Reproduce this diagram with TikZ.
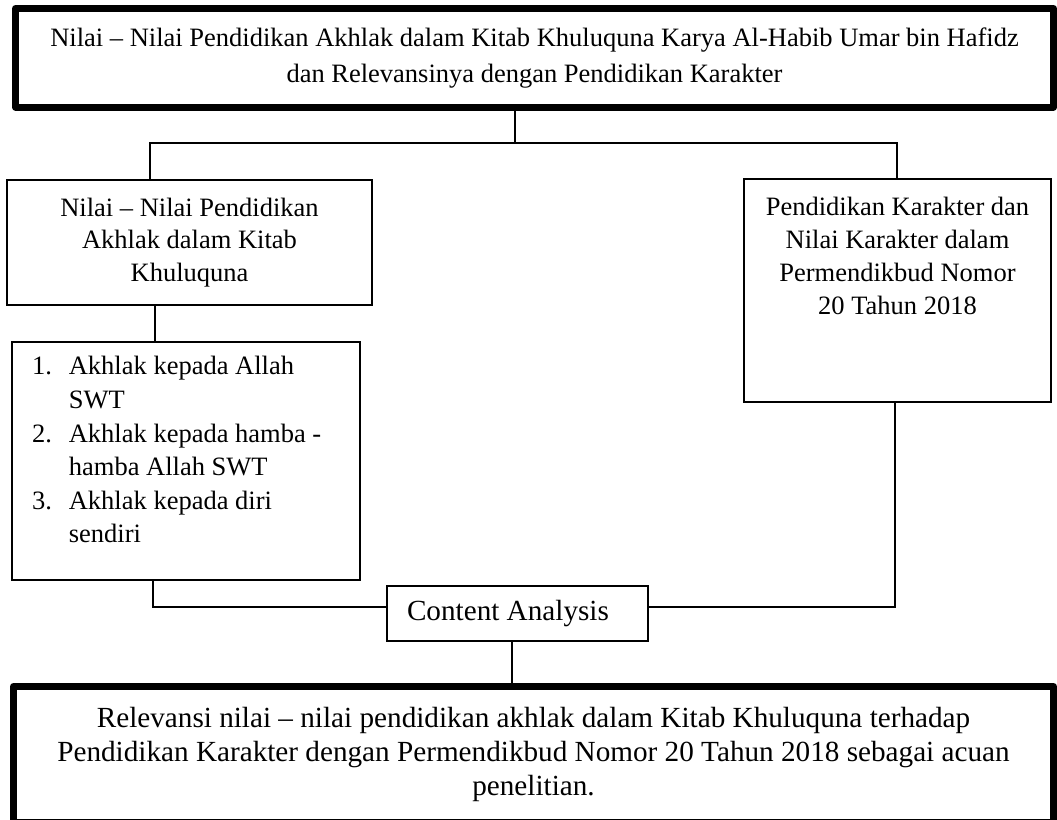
\documentclass[tikz,border=0pt]{standalone}
\usepackage{fontspec}
\setmainfont{Liberation Serif}
\tikzset{
  box/.style={draw,line width=0.8pt,inner sep=0pt},
  bigbox/.style={draw,line width=3.5pt,line join=round,inner sep=0pt,align=center},
  link/.style={line width=0.8pt},
}
\newcommand{\toptext}[3]{\parbox[c][#1][t]{#2}{#3}}
\begin{document}
\begin{tikzpicture}[x=0.5pt,y=-0.5pt]
\useasboundingbox (0,0) rectangle (1057,820);
% boxes
\node[bigbox,minimum width=519pt,minimum height=49.25pt,font=\fontsize{13.25}{18}\selectfont] (judul) at (534.5,57.75)
  {Nilai – Nilai Pendidikan Akhlak dalam Kitab Khuluquna Karya Al-Habib Umar bin Hafidz\\dan Relevansinya dengan Pendidikan Karakter};
\node[box,align=center,minimum width=182.5pt,minimum height=62.5pt,font=\fontsize{13.25}{16.25}\selectfont] (nilai) at (189.5,242.5)
  {Nilai – Nilai Pendidikan\\Akhlak dalam Kitab\\Khuluquna};
\node[box,font=\fontsize{13.25}{16.5}\selectfont] (karakter) at (897.5,290.5)
  {\toptext{111.5pt}{153.5pt}{\vspace*{6.45pt}\centering\strut Pendidikan Karakter dan\\Nilai Karakter dalam\\Permendikbud Nomor\\20 Tahun 2018}};
\node[box,font=\fontsize{13.25}{16.8}\selectfont] (akhlak) at (186,461)
  {\toptext{119pt}{174pt}{\vspace*{4.7pt}\hspace*{10pt}\begin{tabular}[t]{@{}r@{\hspace{8.5pt}}l@{}}
    1. & Akhlak kepada Allah\\
       & SWT\\
    2. & Akhlak kepada hamba -\\
       & hamba Allah SWT\\
    3. & Akhlak kepada diri\\
       & sendiri
  \end{tabular}}};
\node[box,minimum width=130.5pt,minimum height=27.5pt,font=\fontsize{14.6}{17}\selectfont] (analisis) at (517.5,613.5)
  {\makebox[130.5pt][l]{\hspace*{10pt}Content Analysis}};
\node[bigbox,minimum width=520pt,minimum height=68pt,font=\fontsize{14.6}{17}\selectfont] (relevansi) at (533.5,754.5)
  {Relevansi nilai – nilai pendidikan akhlak dalam Kitab Khuluquna terhadap\\Pendidikan Karakter dengan Permendikbud Nomor 20 Tahun 2018 sebagai acuan\\penelitian.};
% connectors
\coordinate (cabang) at (515,143);
\coordinate (kiri) at (150,143);
\coordinate (kanan) at (897,143);
\draw[link] (judul.south -| cabang) -- (cabang);
\draw[link] (nilai.north -| kiri) -- (kiri) -- (kanan) -- (karakter.north -| kanan);
\draw[link] ([xshift=-17.25pt]nilai.south) -- ([xshift=-17.25pt]nilai.south |- akhlak.north);
\coordinate (temuKiri) at (153,607);
\coordinate (temuKanan) at (895,607);
\draw[link] (akhlak.south -| temuKiri) -- (temuKiri) -- (analisis.west |- temuKiri);
\draw[link] (karakter.south -| temuKanan) -- (temuKanan) -- (analisis.east |- temuKanan);
\draw[link] ([xshift=-2.75pt]analisis.south) -- ([xshift=-2.75pt]analisis.south |- relevansi.north);
\end{tikzpicture}
\end{document}
